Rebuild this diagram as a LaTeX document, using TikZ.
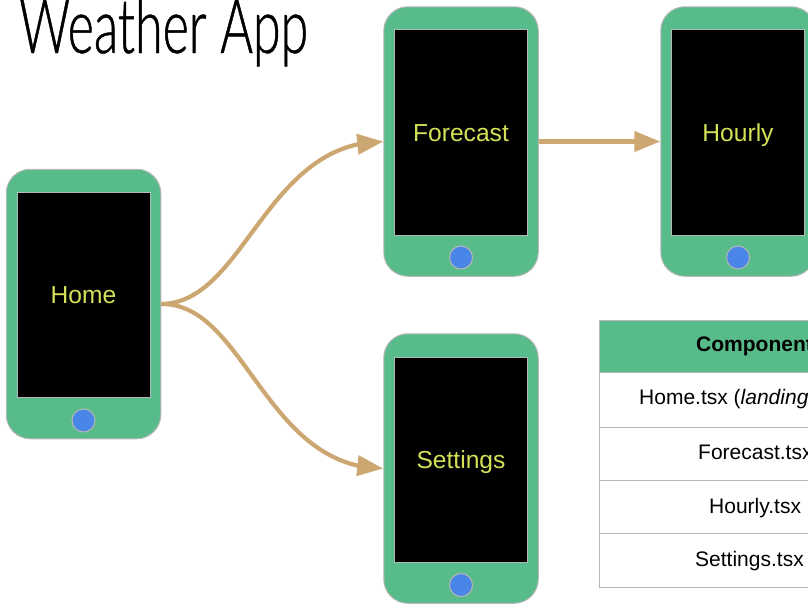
\documentclass[tikz,border=0pt]{standalone}
\usepackage{fontspec}
\setmainfont{Liberation Sans}
\newfontfamily\titlefont[FakeStretch=0.66,FakeBold=0.6]{Lato Light}
\usetikzlibrary{arrows.meta,bending}
\definecolor{phonegreen}{HTML}{57BB8A}
\definecolor{edgegrey}{HTML}{B7B7B7}
\definecolor{homeblue}{HTML}{4A86E8}
\definecolor{labelyellow}{HTML}{D4E157}
\definecolor{flowtan}{HTML}{CDA772}
\tikzset{
  phonebody/.style={draw=edgegrey,fill=phonegreen,line width=1pt,rounded corners=24pt,minimum width=154.5pt,minimum height=269.5pt,inner sep=0pt},
  phonescreen/.style={draw=edgegrey,fill=black,line width=1pt,minimum width=133pt,minimum height=205.5pt,inner sep=0pt,text=labelyellow,text height=17.6pt,text depth=0pt,font=\fontsize{24.6}{28}\selectfont},
  phonebutton/.style={circle,draw=edgegrey,fill=homeblue,line width=1pt,minimum size=23pt,inner sep=0pt},
  flowarrow/.style={draw=flowtan,line width=4.2pt,-{Triangle[length=26pt,width=20pt,flex=1]}},
  tablerule/.style={draw=edgegrey,line width=1pt},
  tabletext/.style={anchor=base west,inner sep=0pt,font=\fontsize{21}{25}\selectfont,text=black}
}
\begin{document}
\begin{tikzpicture}[x=1pt,y=-1pt]
\useasboundingbox (0,0) rectangle (808,603);
\clip (0,0) rectangle (808,603);
% title
\node[anchor=base west,inner sep=0pt,font=\fontsize{76}{80}\selectfont\titlefont] (title) at (19,53) {Weather App};
% phones
\node[phonebody] (home) at (83.5,304) {};
\node[phonescreen] (homescreen) at (83.5,295) {Home};
\node[phonebutton] (homebutton) at (83.5,420.5) {};
\node[phonebody] (forecast) at (461,141.5) {};
\node[phonescreen] (forecastscreen) at (461,132.5) {Forecast};
\node[phonebutton] (forecastbutton) at (461,257.5) {};
\node[phonebody] (hourly) at (738,141.5) {};
\node[phonescreen] (hourlyscreen) at (738,132.5) {Hourly};
\node[phonebutton] (hourlybutton) at (738,257.5) {};
\node[phonebody] (settings) at (461,468.5) {};
\node[phonescreen] (settingsscreen) at (461,460) {Settings};
\node[phonebutton] (settingsbutton) at (461,585) {};
% connectors
\draw[flowarrow] (home.east) .. controls (245,303) and (265,142) .. (forecast.west);
\draw[flowarrow] (home.east) .. controls (245,303) and (265,468) .. (settings.west);
\draw[flowarrow] (forecast.east) -- (hourly.west);
% table
\fill[phonegreen] (599.5,320) rectangle (808,372.5);
\draw[tablerule] (808,320) -- (599.5,320) -- (599.5,587) -- (808,587);
\draw[tablerule] (599.5,372.5) -- (808,372.5);
\draw[tablerule] (599.5,427) -- (808,427);
\draw[tablerule] (599.5,480.5) -- (808,480.5);
\draw[tablerule] (599.5,533.5) -- (808,533.5);
\node[tabletext,font=\fontsize{21}{25}\selectfont\bfseries] (t0) at (696,351.5) {Component};
\node[tabletext] (t1) at (639,404) {Home.tsx (\textit{landing}};
\node[tabletext] (t2) at (698,459.5) {Forecast.tsx};
\node[tabletext] (t3) at (709,513) {Hourly.tsx};
\node[tabletext] (t4) at (695,566) {Settings.tsx};
\end{tikzpicture}
\end{document}
